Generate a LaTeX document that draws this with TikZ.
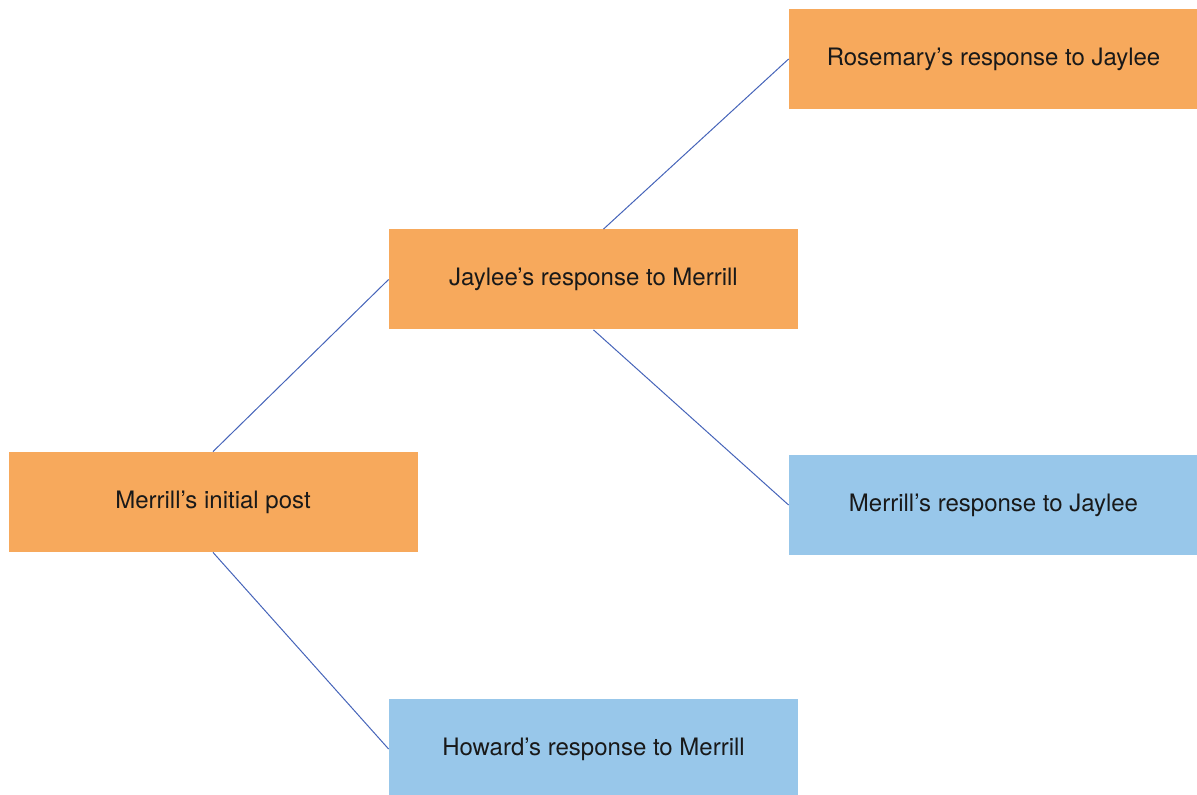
\documentclass[tikz,border=0pt]{standalone}
\usepackage{fontspec}
\setmainfont{TeX Gyre Heros}
\usepackage{tikz}

\definecolor{postorange}{RGB}{247,169,92}
\definecolor{replyblue}{RGB}{152,199,234}
\definecolor{linkblue}{RGB}{70,100,185}

\begin{document}
\begin{tikzpicture}[
    x=0.5pt, y=-0.5pt,
    post/.style={rectangle, fill=postorange, minimum width=204.5pt, minimum height=50pt, inner sep=0pt, font=\fontsize{12}{14}\selectfont, text=black!90},
    reply/.style={post, fill=replyblue},
    link/.style={draw=linkblue, line width=0.5pt}
]
    \useasboundingbox (0,0) rectangle (1197,795);
    \node (initial) [post] at (213,502) {Merrill’s initial post};
    \node (jaylee) [post] at (593.5,279.5) {Jaylee’s response to Merrill};
    \node (rosemary) [post] at (993.5,59) {Rosemary’s response to Jaylee};
    \node (merrill) [reply] at (993.5,505) {Merrill’s response to Jaylee};
    \node (howard) [reply] at (593.5,749) {Howard’s response to Merrill};
    \draw [link] (initial.north) -- (jaylee.west);
    \draw [link] (initial.south) -- (howard.west);
    \draw [link] ([xshift=5pt]jaylee.north) -- (rosemary.west);
    \draw [link] (jaylee.south) -- (merrill.west);
\end{tikzpicture}
\end{document}
